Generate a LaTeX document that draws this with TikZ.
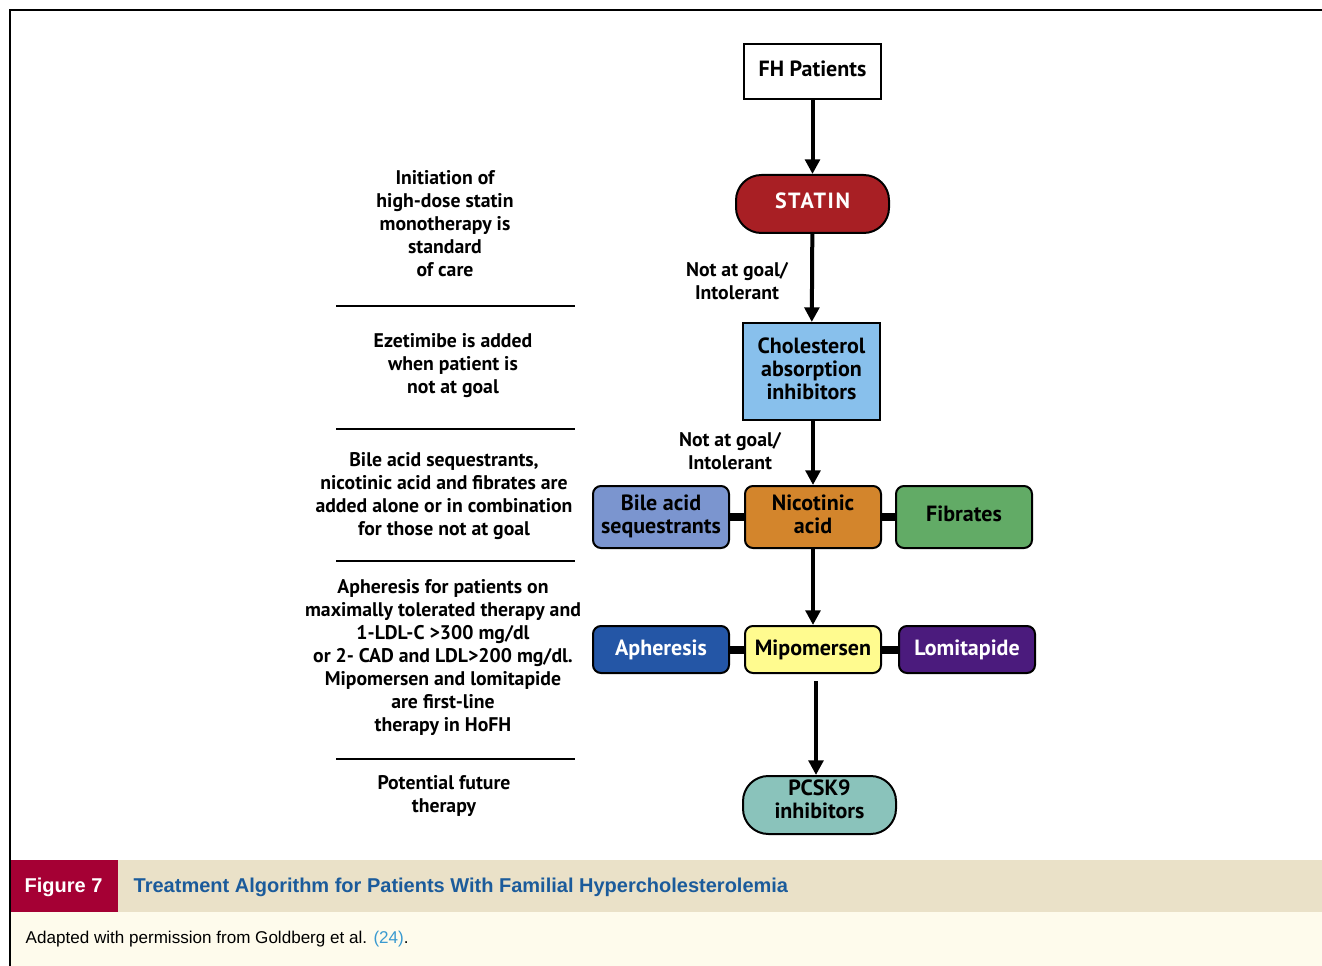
\documentclass[tikz,border=0pt]{standalone}
\usepackage{fontspec}
\setmainfont{PT Sans}
\newfontfamily\capfont{Liberation Sans}
\usetikzlibrary{arrows.meta}
\definecolor{statinred}{HTML}{A81F24}
\definecolor{cholblue}{HTML}{88C0EC}
\definecolor{nicorange}{HTML}{D3852C}
\definecolor{bileblue}{HTML}{7B95CF}
\definecolor{fibgreen}{HTML}{62AB66}
\definecolor{aphblue}{HTML}{2456A6}
\definecolor{mipyellow}{HTML}{FFFB8F}
\definecolor{lompurple}{HTML}{4B1B7D}
\definecolor{pcskteal}{HTML}{8AC3BB}
\definecolor{figred}{HTML}{A50034}
\definecolor{capbeige}{HTML}{EAE1C8}
\definecolor{capcream}{HTML}{FEFBEC}
\definecolor{capblue}{HTML}{1B5B9B}
\definecolor{linkblue}{HTML}{3A9AD0}
\tikzset{
  textlift/.style={execute at end node={\rule[-#1]{0pt}{#1}}},
  box/.style={draw=black, line width=1.5pt, align=center, inner sep=0pt,
    font=\fontsize{16.5}{17.25}\selectfont\bfseries},
  sidebox/.style={box, textlift=4.5pt, rounded corners=6pt, minimum width=102pt, minimum height=46.5pt},
  rowbox/.style={box, rounded corners=6pt, minimum width=102pt, minimum height=35.25pt},
  pill/.style={box, rounded corners=19pt, minimum width=114.75pt, minimum height=43.5pt},
  flow/.style={line width=3pt, -{Triangle[width=11pt,length=11pt]}},
  link/.style={line width=6pt},
  note/.style={align=center, inner sep=0pt, font=\fontsize{14.8}{17.25}\selectfont\bfseries},
  rule/.style={line width=1.5pt},
}
\begin{document}
\begin{tikzpicture}[x=0.75pt,y=-0.75pt]
\useasboundingbox (0,0) rectangle (1322,966);
% frame
\draw[line width=2.2pt] (10,966) -- (10,10) -- (1322,10);
% caption bars
\fill[capbeige] (118,860) rectangle (1322,912);
\fill[figred] (11,860) rectangle (118,912);
\fill[capcream] (11,912) rectangle (1322,966);
\node[anchor=west, text=white, font=\capfont\fontsize{15}{18}\selectfont\bfseries] (figlab) at (20,887) {Figure 7};
\node[anchor=west, text=capblue, font=\capfont\fontsize{15}{18}\selectfont\bfseries] (figtitle) at (129,887) {Treatment Algorithm for Patients With Familial Hypercholesterolemia};
\node[anchor=west, font=\capfont\fontsize{12.8}{15}\selectfont] (credit) at (21,939) {Adapted with permission from Goldberg et al. \textcolor{linkblue}{(24)}.};
% flow nodes
\node[box, textlift=4.5pt, minimum width=102.75pt, minimum height=41.25pt] (fh) at (812.5,71.5) {FH Patients};
\node[pill, textlift=4.5pt, fill=statinred, text=white] (statin) at (812.5,204) {\addfontfeatures{LetterSpace=7}STATIN};
\node[box, textlift=4.5pt, fill=cholblue, minimum width=102.75pt, minimum height=72.75pt] (chol) at (811.5,371.5) {Cholesterol\\absorption\\inhibitors};
\node[sidebox, fill=nicorange] (nic) at (813,517) {Nicotinic\\acid};
\node[sidebox, fill=bileblue] (bile) at (661,517) {Bile acid\\sequestrants};
\node[sidebox, fill=fibgreen] (fib) at (964,517) {Fibrates};
\node[rowbox, fill=mipyellow] (mip) at (813,649.5) {Mipomersen};
\node[rowbox, fill=aphblue, text=white] (aph) at (661,649.5) {Apheresis};
\node[rowbox, fill=lompurple, text=white] (lom) at (967,649.5) {Lomitapide};
\node[pill, textlift=9pt, fill=pcskteal] (pcsk) at (819.5,805) {PCSK9\\inhibitors};
% connectors
\draw[flow] (fh) -- (statin);
\draw[flow] (statin) -- (chol);
\draw[flow] (chol.south -| nic.north) -- (nic);
\draw[flow] (nic) -- (mip);
\coordinate (pstart) at (816,681);
\draw[flow] (pstart) -- (pstart |- pcsk.north);
\draw[link] (bile) -- (nic);
\draw[link] (nic) -- (fib);
\draw[link] (aph) -- (mip);
\draw[link] (mip) -- (lom);
% edge labels
\node[note] (lab1) at (737,281.5) {Not at goal/\\Intolerant};
\node[note] (lab2) at (730,451) {Not at goal/\\Intolerant};
% left column
\node[note] (t1) at (445,223.5) {Initiation of\\high-dose statin\\monotherapy is\\standard\\of care};
\coordinate (r1a) at (336,306); \coordinate (r1b) at (575,306);
\draw[rule] (r1a) -- (r1b);
\node[note] (t2) at (453,366) {Ezetimibe is added\\when patient is\\not at goal};
\coordinate (r2a) at (336,429); \coordinate (r2b) at (575,429);
\draw[rule] (r2a) -- (r2b);
\node[note] (t3) at (444,496.5) {Bile acid sequestrants,\\nicotinic acid and fibrates are\\added alone or in combination\\for those not at goal};
\coordinate (r3a) at (336,561); \coordinate (r3b) at (575,561);
\draw[rule] (r3a) -- (r3b);
\node[note] (t4) at (443,658) {Apheresis for patients on\\maximally tolerated therapy and\\1-LDL-C >300 mg/dl\\or 2- CAD and LDL>200 mg/dl.\\Mipomersen and lomitapide\\are first-line\\therapy in HoFH};
\coordinate (r4a) at (336,759); \coordinate (r4b) at (575,759);
\draw[rule] (r4a) -- (r4b);
\node[note] (t5) at (444,796.5) {Potential future\\therapy};
\end{tikzpicture}
\end{document}
